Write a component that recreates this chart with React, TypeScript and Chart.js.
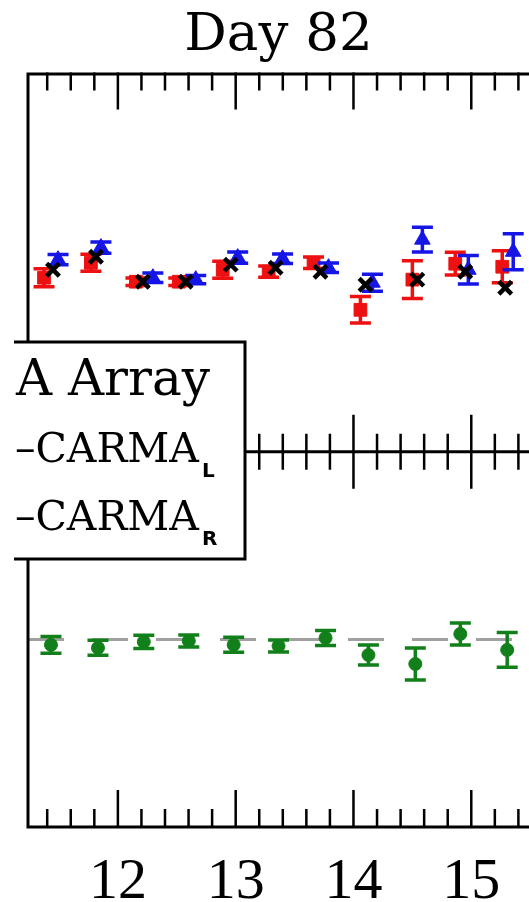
import React, { useEffect, useRef } from 'react';
import { Chart, registerables } from 'chart.js';

Chart.register(...registerables);

// ---- data ----
const titleText = 'Day 82';
const xMin = 11.237;
const xMax = 15.49;
const xTickLabels = [12, 13, 14, 15];

// Top panel: red squares (CARMA_L), blue triangles (CARMA_R), black crosses (array)
const redTime = [11.373, 11.771, 12.153, 12.517, 12.89, 13.28, 13.661, 14.059, 14.5, 14.864, 15.263];
const redVal = [0.918, 0.997, 0.897, 0.897, 0.96, 0.95, 0.997, 0.749, 0.908, 0.992, 0.976];
const redErr = [0.047, 0.045, 0.02, 0.02, 0.045, 0.03, 0.03, 0.07, 0.1, 0.06, 0.085];

const blueTime = [11.492, 11.856, 12.297, 12.661, 13.017, 13.398, 13.788, 14.161, 14.585, 14.975, 15.356];
const blueVal = [1.013, 1.077, 0.918, 0.908, 1.024, 1.018, 0.971, 0.892, 1.119, 0.96, 1.055];
const blueErr = [0.027, 0.03, 0.025, 0.022, 0.03, 0.025, 0.025, 0.045, 0.065, 0.075, 0.095];

const blackTime = [11.449, 11.814, 12.212, 12.576, 12.958, 13.339, 13.72, 14.102, 14.542, 14.949, 15.288];
const blackVal = [0.96, 1.029, 0.897, 0.897, 0.987, 0.971, 0.95, 0.881, 0.908, 0.95, 0.865];

// Bottom panel: green circles (ratio) and the reference level
const greenTime = [11.432, 11.831, 12.22, 12.602, 12.983, 13.364, 13.763, 14.127, 14.525, 14.907, 15.305];
const greenVal = [0.971, 0.955, 0.987, 0.992, 0.971, 0.965, 1.008, 0.917, 0.869, 1.029, 0.944];
const greenErr = [0.045, 0.04, 0.035, 0.032, 0.04, 0.032, 0.04, 0.053, 0.085, 0.059, 0.093];
const refLevel = 1.0;

const legendLines = ['A Array', '\u2013CARMA', '\u2013CARMA'];
const legendSubs = ['', 'L', 'R'];

const W = 529;
const H = 902;

const pts = (xs: number[], ys: number[]) => xs.map((x, i) => ({ x, y: ys[i] }));

const framePlugin = {
  id: 'frame',
  beforeDatasetDraw(chart: any, args: any) {
    const ds = chart.data.datasets[args.index];
    if (!ds.errors) return;
    const ctx = chart.ctx;
    const xs = chart.scales.x;
    const ys = chart.scales[args.meta.yAxisID];
    ctx.save();
    ctx.strokeStyle = ds.errColor;
    ctx.lineWidth = 3.5;
    const cap = 10.5;
    ds.data.forEach((p: any, i: number) => {
      const e = ds.errors[i];
      const px = xs.getPixelForValue(p.x);
      const y1 = ys.getPixelForValue(p.y + e);
      const y2 = ys.getPixelForValue(p.y - e);
      ctx.beginPath();
      ctx.moveTo(px, y1);
      ctx.lineTo(px, y2);
      ctx.moveTo(px - cap, y1);
      ctx.lineTo(px + cap, y1);
      ctx.moveTo(px - cap, y2);
      ctx.lineTo(px + cap, y2);
      ctx.stroke();
    });
    ctx.restore();
  },
  afterDraw(chart: any) {
    const ctx = chart.ctx;
    const { left, right, top, bottom } = chart.chartArea;
    const xs = chart.scales.x;
    const mid = chart.scales.yTop.bottom;
    ctx.save();
    ctx.strokeStyle = '#000';
    ctx.lineCap = 'butt';
    ctx.lineWidth = 3;
    ctx.beginPath();
    ctx.moveTo(left, top);
    ctx.lineTo(left, bottom + 1.5);
    ctx.moveTo(left - 1.5, top + 1.5);
    ctx.lineTo(right, top + 1.5);
    ctx.moveTo(left, mid);
    ctx.lineTo(right, mid);
    ctx.moveTo(left - 1.5, bottom);
    ctx.lineTo(right, bottom);
    ctx.stroke();

    ctx.lineWidth = 2.5;
    ctx.beginPath();
    const k0 = Math.ceil(xMin / 0.2 - 1e-6);
    const k1 = Math.floor(xMax / 0.2 + 1e-6);
    for (let k = k0; k <= k1; k++) {
      const v = k * 0.2;
      const major = Math.abs(v - Math.round(v)) < 1e-6;
      const len = major ? 37 : 18;
      const px = xs.getPixelForValue(v);
      if (px <= left + 2) continue;
      ctx.moveTo(px, top);
      ctx.lineTo(px, top + len);
      ctx.moveTo(px, mid - len);
      ctx.lineTo(px, mid + len);
      ctx.moveTo(px, bottom);
      ctx.lineTo(px, bottom - len);
    }
    ctx.stroke();

    // x tick labels, placed by the x scale
    ctx.fillStyle = '#000';
    ctx.font = '58px "Liberation Serif"';
    ctx.textAlign = 'center';
    ctx.textBaseline = 'alphabetic';
    xTickLabels.forEach((v) => {
      ctx.fillText(String(v), xs.getPixelForValue(v), bottom + 71);
    });

    // legend box (cropped on the left)
    const bx0 = -10, bx1 = 245, by0 = 342, by1 = 559;
    ctx.fillStyle = '#fff';
    ctx.fillRect(bx0, by0, bx1 - bx0, by1 - by0);
    ctx.lineWidth = 3;
    ctx.strokeRect(bx0, by0, bx1 - bx0, by1 - by0);
    ctx.fillStyle = '#000';
    ctx.textAlign = 'left';
    ctx.textBaseline = 'alphabetic';
    const bases = [395, 462, 530];
    legendLines.forEach((t, i) => {
      ctx.font = (i === 0 ? '50px' : '41px') + ' "DejaVu Serif"';
      const x0 = i === 0 ? 16 : 15;
      ctx.fillText(t, x0, bases[i]);
      if (legendSubs[i]) {
        const w = ctx.measureText(t).width;
        ctx.font = 'bold 20px "DejaVu Sans"';
        ctx.fillText(legendSubs[i], x0 + w + 3, bases[i] + 15);
      }
    });

    // white margin at far left of the crop
    ctx.fillStyle = '#fff';
    ctx.fillRect(0, 0, 14, H);
    ctx.restore();
  },
};

export default function App() {
  const ref = useRef<HTMLCanvasElement | null>(null);
  useEffect(() => {
    if (!ref.current) return;
    const chart = new Chart(ref.current, {
      type: 'scatter',
      data: {
        datasets: [
          {
            label: 'array',
            data: pts(blackTime, blackVal),
            yAxisID: 'yTop',
            pointStyle: 'crossRot',
            pointRadius: 9,
            borderColor: '#000',
            backgroundColor: '#000',
            pointBorderWidth: 4.5,
            order: 0,
          } as any,
          {
            label: 'CARMA_R',
            data: pts(blueTime, blueVal),
            yAxisID: 'yTop',
            pointStyle: 'triangle',
            pointRadius: 9,
            backgroundColor: '#1515e6',
            borderColor: '#1515e6',
            pointBorderWidth: 1,
            errors: blueErr,
            errColor: '#1515e6',
            order: 1,
          } as any,
          {
            label: 'CARMA_L',
            data: pts(redTime, redVal),
            yAxisID: 'yTop',
            pointStyle: 'rect',
            pointRadius: 9,
            backgroundColor: '#ee1111',
            borderColor: '#ee1111',
            pointBorderWidth: 1,
            errors: redErr,
            errColor: '#ee1111',
            order: 2,
          } as any,
          {
            label: 'ratio',
            data: pts(greenTime, greenVal),
            yAxisID: 'yBot',
            pointStyle: 'circle',
            pointRadius: 6.5,
            backgroundColor: '#12801a',
            borderColor: '#12801a',
            pointBorderWidth: 1,
            errors: greenErr,
            errColor: '#12801a',
            order: 3,
          } as any,
          {
            type: 'line',
            label: 'reference',
            data: [
              { x: xMin, y: refLevel },
              { x: xMax, y: refLevel },
            ],
            yAxisID: 'yBot',
            borderColor: '#a0a0a0',
            borderWidth: 3,
            borderDash: [36, 28],
            pointRadius: 0,
            order: 4,
          } as any,
        ],
      },
      options: {
        responsive: false,
        animation: false,
        events: [],
        layout: { autoPadding: false, padding: { left: 28, right: 0, top: 0, bottom: 75 } },
        plugins: {
          legend: { display: false },
          tooltip: { enabled: false },
          title: {
            display: true,
            text: titleText,
            color: '#000',
            font: { family: '"DejaVu Serif"', size: 53, weight: 'normal' },
            padding: { top: 4, bottom: 5 },
          },
        },
        scales: {
          x: {
            type: 'linear',
            position: 'bottom',
            min: xMin,
            max: xMax,
            display: false,
          },
          yBot: {
            type: 'linear',
            position: 'left',
            stack: 'panels',
            stackWeight: 375,
            min: 0,
            max: 2,
            display: false,
          },
          yTop: {
            type: 'linear',
            position: 'left',
            stack: 'panels',
            stackWeight: 379,
            min: 0,
            max: 2,
            display: false,
          },
        } as any,
      },
      plugins: [framePlugin],
    });
    return () => chart.destroy();
  }, []);
  return (
    <div style={{ position: 'absolute', left: 0, top: 0, width: W, height: H, overflow: 'hidden', background: '#fff' }}>
      <canvas ref={ref} width={W} height={H} style={{ display: 'block' }} />
    </div>
  );
}
